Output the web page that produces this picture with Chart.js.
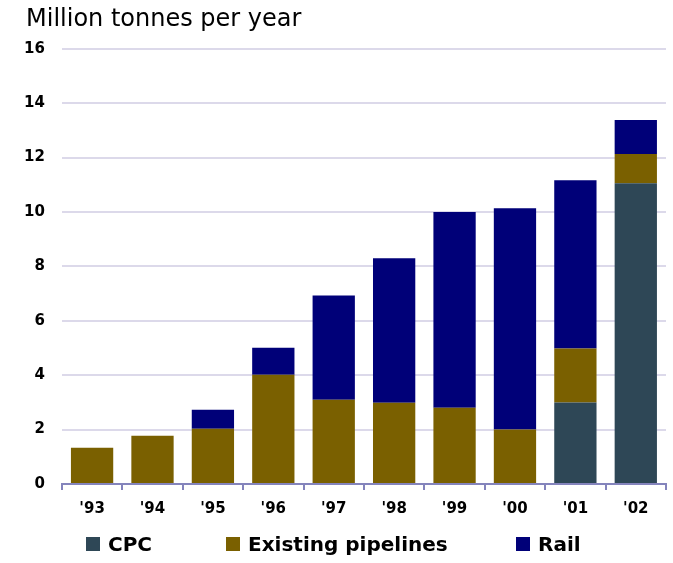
<!DOCTYPE html>
<html>
<head>
<meta charset="utf-8">
<script src="https://cdn.jsdelivr.net/npm/chart.js@4/dist/chart.umd.min.js"></script>
<style>
  html, body { margin: 0; padding: 0; background: #fff; }
  #wrap { position: relative; width: 673px; height: 563px; }
  #legend { position: absolute; left: 0; top: 532px; width: 673px; height: 24px;
    font-family: "DejaVu Sans", Verdana, sans-serif; font-weight: bold; font-size: 20px; color: #000; }
  .item { position: absolute; top: 0; display: flex; align-items: center; height: 24px; white-space: nowrap; }
  .box { width: 14px; height: 14px; margin-right: 8px; }
</style>
</head>
<body>
<div id="wrap">
  <canvas id="c" width="673" height="563"></canvas>
  <div id="legend"></div>
</div>
<script>
const categories = ["'93", "'94", "'95", "'96", "'97", "'98", "'99", "'00", "'01", "'02"];
const cpc       = [0, 0, 0, 0, 0, 0, 0, 0, 3.0, 11.06];
const pipelines = [1.33, 1.77, 2.03, 4.02, 3.1, 2.99, 2.8, 2.0, 1.98, 1.07];
const rail      = [0, 0, 0.7, 0.99, 3.83, 5.31, 7.2, 8.14, 6.19, 1.25];
const seriesNames = ["CPC", "Existing pipelines", "Rail"];
const seriesColors = ["#2E4756", "#7A6000", "#000078"];
const yTicks = [0, 2, 4, 6, 8, 10, 12, 14, 16];
const titleText = "Million tonnes per year";

const axisColor = "#8484BC";
const gridColor = "#DCD9EA";

const seriesValues = [cpc, pipelines, rail];
const datasets = seriesNames.map((n, i) => ({
  label: n,
  data: seriesValues[i],
  backgroundColor: seriesColors[i],
  borderWidth: 0,
  categoryPercentage: 1.0,
  barPercentage: 0.7
}));

const titleShift = {
  id: 'titleShift',
  afterLayout(chart) {
    if (chart.titleBlock) chart.titleBlock.left = 26;
  }
};

new Chart(document.getElementById('c'), {
  type: 'bar',
  data: { labels: categories, datasets },
  plugins: [titleShift],
  options: {
    responsive: false,
    animation: false,
    layout: { padding: { left: 7, right: 7, top: 0, bottom: 35 } },
    plugins: {
      legend: { display: false },
      tooltip: { enabled: false },
      title: {
        display: true,
        text: titleText,
        align: 'start',
        color: '#000',
        font: { family: "'DejaVu Sans', Verdana, sans-serif", size: 24, weight: 'normal' },
        padding: { top: 5, bottom: 15 }
      }
    },
    scales: {
      x: {
        stacked: true,
        offset: true,
        grid: {
          display: true, offset: true, drawOnChartArea: false, drawTicks: true,
          tickLength: 6, color: axisColor, lineWidth: 2
        },
        border: { display: true, color: axisColor, width: 2 },
        ticks: {
          color: '#000', padding: 10,
          font: { family: "'DejaVu Sans', Verdana, sans-serif", size: 15, weight: 'bold' }
        }
      },
      y: {
        stacked: true,
        min: 0, max: 16,
        afterBuildTicks: (s) => { s.ticks = yTicks.map(v => ({ value: v })); },
        grid: {
          drawTicks: false,
          lineWidth: 2,
          color: (ctx) => (ctx.tick && ctx.tick.value === 0) ? 'rgba(0,0,0,0)' : gridColor
        },
        border: { display: false },
        ticks: {
          color: '#000', padding: 17,
          font: { family: "'DejaVu Sans', Verdana, sans-serif", size: 15, weight: 'bold' }
        }
      }
    }
  }
});

// HTML legend built from the series
const legendX = [86, 226, 516];
const lg = document.getElementById('legend');
seriesNames.forEach((n, i) => {
  const it = document.createElement('div');
  it.className = 'item';
  it.style.left = legendX[i] + 'px';
  const b = document.createElement('div');
  b.className = 'box';
  b.style.background = seriesColors[i];
  const t = document.createElement('span');
  t.textContent = n;
  it.appendChild(b); it.appendChild(t);
  lg.appendChild(it);
});
</script>
</body>
</html>
